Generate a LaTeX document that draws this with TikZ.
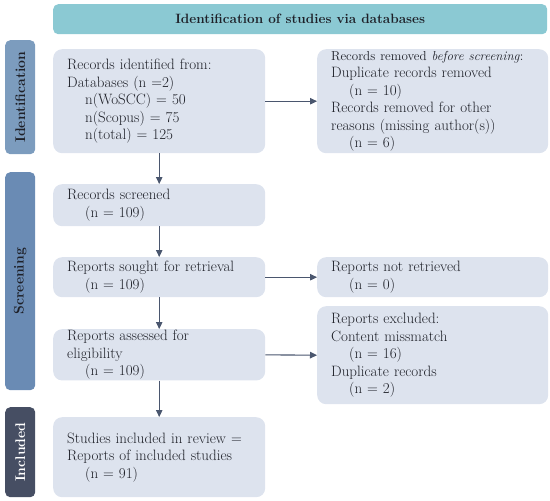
\documentclass[tikz,border=0pt]{standalone}
\usepackage{amsmath,amssymb}
\usepackage{tikz}
\usetikzlibrary{arrows.meta,calc}
\usepackage{xcolor}
\definecolor{boxfill}{RGB}{221,227,238}
\definecolor{titlefill}{RGB}{139,201,211}
\definecolor{idfill}{RGB}{124,156,190}
\definecolor{scrfill}{RGB}{106,139,180}
\definecolor{incfill}{RGB}{70,78,99}
\definecolor{arrowcol}{RGB}{74,86,110}
\definecolor{textcol}{RGB}{30,32,40}

\begin{document}
\begin{tikzpicture}[x=1pt,y=-1pt,
  flowbox/.style={fill=boxfill,rounded corners=9pt,anchor=north west,align=left,
    inner xsep=14pt,inner ysep=1pt,text=textcol,font=\fontsize{15}{17.5}\selectfont},
  leftbox/.style={flowbox,text width=184pt},
  rightbox/.style={flowbox,text width=203pt},
  phasebar/.style={rounded corners=5pt,rotate=90,anchor=north east,minimum height=30pt,
    inner sep=0pt,font=\bfseries\fontsize{14}{16}\selectfont},
  flowarrow/.style={draw=arrowcol,line width=1.1pt,-{Triangle[length=7pt,width=6.5pt]}}]
\useasboundingbox (0,0) rectangle (550,501);

\node[fill=titlefill,rounded corners=5pt,anchor=north west,minimum width=494pt,minimum height=30pt,
  text=textcol,font=\bfseries\fontsize{13.5}{15}\selectfont] (title) at (53,4)
  {Identification of studies via databases};

% phases
\node[phasebar,fill=idfill,text=textcol,minimum width=114pt] (phaseid) at (5,40) {Identification};
\node[phasebar,fill=scrfill,text=textcol,minimum width=218pt] (phasescr) at (5,172) {Screening};
\node[phasebar,fill=incfill,text=white,minimum width=90pt] (phaseinc) at (5,407) {Included};

% left column
\node[leftbox,minimum height=104pt] (identified) at (53,49)
  {Records identified from:\\ Databases (n =2)\\
   \hspace*{18pt}n(WoSCC) = 50\\ \hspace*{18pt}n(Scopus) = 75\\ \hspace*{18pt}n(total) = 125};
\node[leftbox,minimum height=42pt] (screened) at (53,184)
  {Records screened\\ \hspace*{18pt}(n = 109)};
\node[leftbox,minimum height=40pt] (sought) at (53,257)
  {Reports sought for retrieval\\ \hspace*{18pt}(n = 109)};
\node[leftbox,minimum height=51pt] (assessed) at (53,329)
  {Reports assessed for\\ eligibility\\ \hspace*{18pt}(n = 109)};
\node[leftbox,minimum height=80pt] (included) at (53,417)
  {Studies included in review =\\ Reports of included studies\\ \hspace*{18pt}(n = 91)};

% right column
\node[rightbox,minimum height=104pt] (removed) at (317,49)
  {{\fontsize{13}{15}\selectfont Records removed \textit{before screening}:}\\
   Duplicate records removed\\ \hspace*{18pt}(n = 10)\\
   Records removed for other\\ reasons (missing author(s))\\ \hspace*{18pt}(n = 6)};
\node[rightbox,minimum height=40pt] (notretrieved) at (317,257)
  {Reports not retrieved\\ \hspace*{18pt}(n = 0)};
\node[rightbox,minimum height=98pt] (excluded) at (317,306)
  {Reports excluded:\\ Content missmatch\\ \hspace*{18pt}(n = 16)\\
   Duplicate records\\ \hspace*{18pt}(n = 2)};

\draw[flowarrow] (identified) -- (screened);
\draw[flowarrow] (screened) -- (sought);
\draw[flowarrow] (sought) -- (assessed);
\draw[flowarrow] (assessed) -- (included);
\draw[flowarrow] (identified.east) -- (removed.west);
\draw[flowarrow] (sought.east) -- (notretrieved.west);
\draw[flowarrow] (assessed.east) -- (excluded.west);
\end{tikzpicture}
\end{document}
